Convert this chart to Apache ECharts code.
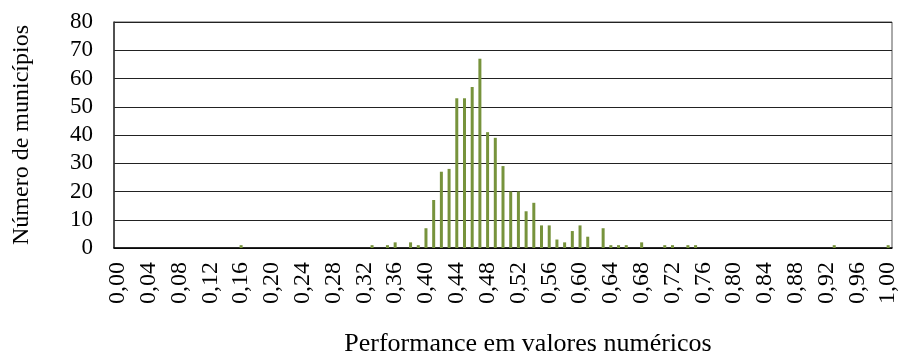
<!DOCTYPE html>
<html>
<head>
<meta charset="utf-8">
<script src="https://cdn.jsdelivr.net/npm/echarts@6/dist/echarts.min.js"></script>
<style>
  html, body { margin: 0; padding: 0; background: #fff; }
  #chart { width: 901px; height: 355px; }
</style>
</head>
<body>
<div id="chart"></div>
<script>
// Histogram bins: performance score from 0,00 to 1,00 in steps of 0,01
const bins = Array.from({ length: 101 }, (_, i) => (i / 100).toFixed(2).replace('.', ','));

// Number of municipalities in each bin (index = bin * 100)
const counts = [
  0, 0, 0, 0, 0, 0, 0, 0, 0, 0,      // 0,00 - 0,09
  0, 0, 0, 0, 0, 0, 1, 0, 0, 0,      // 0,10 - 0,19
  0, 0, 0, 0, 0, 0, 0, 0, 0, 0,      // 0,20 - 0,29
  0, 0, 0, 1, 0, 1, 2, 0, 2, 1,      // 0,30 - 0,39
  7, 17, 27, 28, 53, 53, 57, 67, 41, 39, // 0,40 - 0,49
  29, 20, 20, 13, 16, 8, 8, 3, 2, 6, // 0,50 - 0,59
  8, 4, 0, 7, 1, 1, 1, 0, 2, 0,      // 0,60 - 0,69
  0, 1, 1, 0, 1, 1, 0, 0, 0, 0,      // 0,70 - 0,79
  0, 0, 0, 0, 0, 0, 0, 0, 0, 0,      // 0,80 - 0,89
  0, 0, 0, 1, 0, 0, 0, 0, 0, 0,      // 0,90 - 0,99
  1                                  // 1,00
];

const yTicks = { min: 0, max: 80, step: 10 };

const xTitle = 'Performance em valores numéricos';
const yTitle = 'Número de municípios';

const font = "'Liberation Serif', 'Times New Roman', serif";

const chart = echarts.init(document.getElementById('chart'), null, { renderer: 'canvas' });
chart.setOption({
  animation: false,
  backgroundColor: '#ffffff',
  grid: {
    left: 114, right: 9, top: 22, bottom: 107,
    containLabel: false,
    outerBoundsMode: 'none',
    show: true, borderColor: '#555', borderWidth: 1
  },
  xAxis: {
    type: 'category',
    data: bins,
    boundaryGap: true,
    axisLine: { show: true, lineStyle: { color: '#000', width: 1.5 } },
    axisTick: { show: false },
    axisLabel: {
      interval: 3,
      rotate: 90,
      margin: 14,
      color: '#000',
      fontFamily: font,
      fontSize: 24
    },
    name: xTitle,
    nameLocation: 'middle',
    nameGap: 83,
    nameTextStyle: {
      color: '#000', fontFamily: font, fontSize: 26,
      padding: [0, 0, 0, 50]
    }
  },
  yAxis: {
    type: 'value',
    min: yTicks.min,
    max: yTicks.max,
    interval: yTicks.step,
    axisLine: { show: true, lineStyle: { color: '#333', width: 1.5 } },
    axisTick: { show: false },
    splitLine: { show: true, lineStyle: { color: '#222', width: 1 } },
    axisLabel: {
      margin: 21,
      color: '#000',
      fontFamily: font,
      fontSize: 23
    },
    name: yTitle,
    nameLocation: 'middle',
    nameGap: 80,
    nameRotate: 90,
    nameTextStyle: { color: '#000', fontFamily: font, fontSize: 24 }
  },
  series: [{
    type: 'bar',
    data: counts,
    barWidth: 3,
    itemStyle: { color: '#77933C' }
  }]
});
</script>
</body>
</html>
